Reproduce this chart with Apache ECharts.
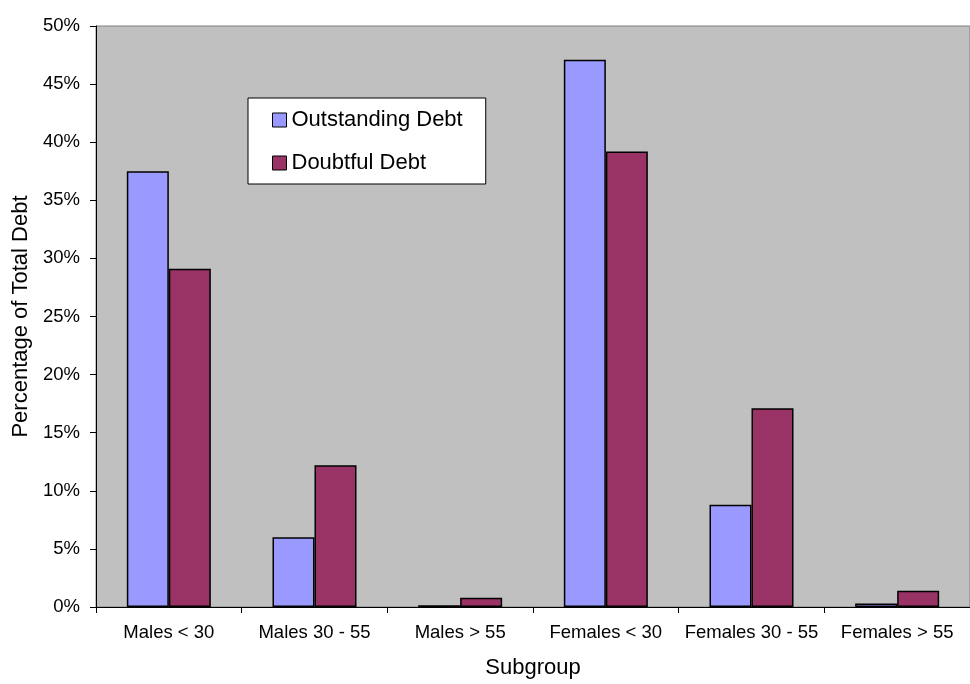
<!DOCTYPE html>
<html>
<head>
<meta charset="utf-8">
<script src="https://cdn.jsdelivr.net/npm/echarts@6/dist/echarts.min.js"></script>
<style>html,body{margin:0;padding:0;background:#fff;}#chart{width:970px;height:684px;}</style>
</head>
<body>
<div id="chart"></div>
<script>
var categories = ['Males < 30', 'Males 30 - 55', 'Males > 55', 'Females < 30', 'Females 30 - 55', 'Females > 55'];
var outstandingDebt = [37.5, 6.0, 0.15, 47.1, 8.8, 0.3];
var doubtfulDebt = [29.1, 12.2, 0.8, 39.2, 17.1, 1.4];
var seriesNames = ['Outstanding Debt', 'Doubtful Debt'];
var yTicks = { min: 0, max: 50, interval: 5 };

var font = 'Liberation Sans, Arial, sans-serif';
var chart = echarts.init(document.getElementById('chart'), null, { renderer: 'canvas' });
chart.setOption({
  animation: false,
  backgroundColor: '#ffffff',
  grid: {
    left: 96, right: 0, top: 26, bottom: 73,
    show: true, backgroundColor: '#C0C0C0', borderColor: '#808080', borderWidth: 1
  },
  legend: {
    orient: 'vertical',
    left: 248, top: 98,
    data: seriesNames,
    backgroundColor: '#ffffff',
    borderColor: '#000000', borderWidth: 1,
    padding: [11, 23, 10, 24],
    itemGap: 21,
    itemWidth: 14, itemHeight: 14,
    icon: 'rect',
    itemStyle: { borderColor: '#000000', borderWidth: 1 },
    textStyle: { fontFamily: font, fontSize: 22, color: '#000' }
  },
  xAxis: {
    type: 'category',
    data: categories,
    name: 'Subgroup',
    nameLocation: 'middle',
    nameGap: 50,
    nameTextStyle: { fontFamily: font, fontSize: 22, color: '#000' },
    axisLine: { lineStyle: { color: '#000', width: 1 } },
    axisTick: { show: true, length: 6, alignWithLabel: false, lineStyle: { color: '#000' } },
    axisLabel: { fontFamily: font, fontSize: 18.5, color: '#000', margin: 16, interval: 0 },
    splitLine: { show: false }
  },
  yAxis: {
    type: 'value',
    min: yTicks.min, max: yTicks.max, interval: yTicks.interval,
    name: 'Percentage of Total Debt',
    nameLocation: 'middle',
    nameGap: 64,
    nameTextStyle: { fontFamily: font, fontSize: 22, color: '#000' },
    axisLine: { show: true, lineStyle: { color: '#000', width: 1 } },
    axisTick: { show: true, length: 6, lineStyle: { color: '#000' } },
    axisLabel: { fontFamily: font, fontSize: 18.5, color: '#000', margin: 16, formatter: '{value}%' },
    splitLine: { show: false }
  },
  series: [
    {
      name: seriesNames[0], type: 'bar', data: outstandingDebt,
      barWidth: 42, barGap: '0%',
      itemStyle: { color: '#9999FF', borderColor: '#000000', borderWidth: 1.5 }
    },
    {
      name: seriesNames[1], type: 'bar', data: doubtfulDebt,
      barWidth: 42, barGap: '0%',
      itemStyle: { color: '#993366', borderColor: '#000000', borderWidth: 1.5 }
    }
  ]
});
</script>
</body>
</html>
